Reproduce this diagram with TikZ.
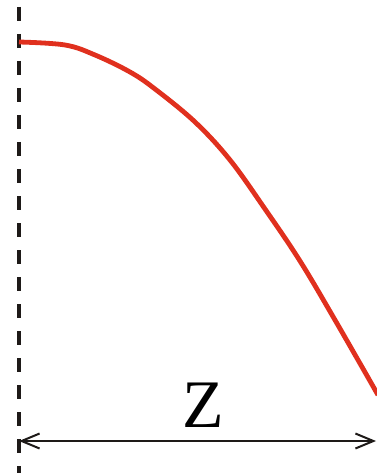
\documentclass[tikz,border=0pt]{standalone}
\usepackage{fontspec}
\setmainfont{Liberation Serif}
\usetikzlibrary{arrows.meta}
\definecolor{curvered}{HTML}{E0301E}
\definecolor{ink}{HTML}{1E1A18}
\tikzset{
  axisline/.style={ink, line width=3.6pt, dash pattern=on 14pt off 13pt},
  redcurve/.style={curvered, line width=4.8pt, line cap=butt, line join=round},
  dimline/.style={ink, line width=2pt, {Straight Barb[length=18pt,width=15pt,line width=2pt]}-{Straight Barb[length=18pt,width=15pt,line width=2pt]}},
  bigtext/.style={font=\fontsize{68}{68}\selectfont, inner sep=0pt, text=black}
}
\begin{document}
\begin{tikzpicture}[x=1pt,y=-1pt]
\useasboundingbox (0,0) rectangle (376,473);
\draw[axisline] (19,7) -- (19,473);
\draw[redcurve] plot[smooth, tension=0.6] coordinates {(19,42) (65,45) (95,55) (130,72) (155,89) (195,122) (230,160) (265,209) (300,261) (335,320) (378,395)};
\coordinate (L) at (19,441);
\coordinate (R) at (376,441);
\draw[dimline] (L) -- (R);
\node[bigtext, anchor=base] (z) at (203,427) {Z};
\end{tikzpicture}
\end{document}
